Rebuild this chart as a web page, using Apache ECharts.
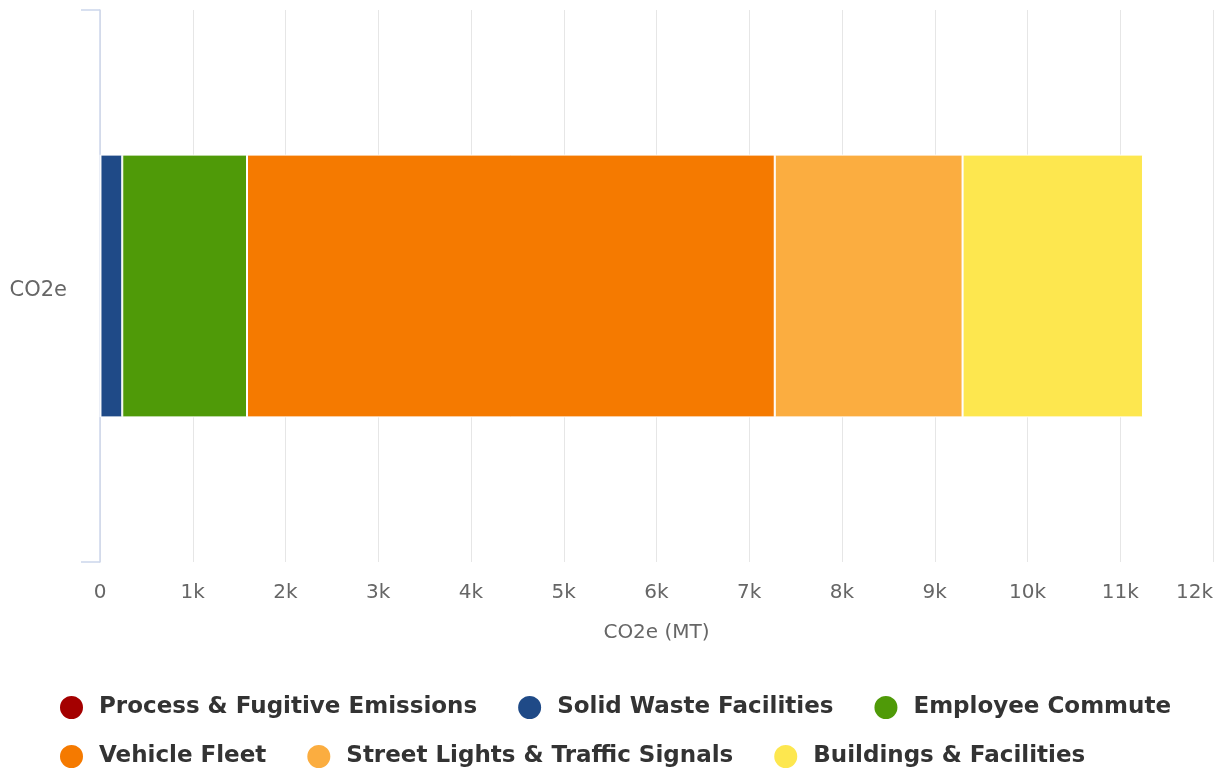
<!DOCTYPE html>
<html>
<head>
<meta charset="utf-8">
<script src="https://cdn.jsdelivr.net/npm/echarts@6/dist/echarts.min.js"></script>
<style>
  html, body { margin: 0; padding: 0; background: #fff; }
  #chart { width: 1225px; height: 774px; }
</style>
</head>
<body>
<div id="chart"></div>
<script>
// 数据
const categories = ['CO2e'];
const seriesNames = [
    'Process & Fugitive Emissions',
    'Solid Waste Facilities',
    'Employee Commute',
    'Vehicle Fleet',
    'Street Lights & Traffic Signals',
    'Buildings & Facilities'
];
const seriesValues = [5, 235, 1345, 5690, 2025, 1945];
const xTicks = [0, 1000, 2000, 3000, 4000, 5000, 6000, 7000, 8000, 9000, 10000, 11000, 12000];

const palette = ['#a40000', '#1f4a87', '#4f9a08', '#f57a00', '#fbad40', '#fde74f'];
const fontFamily = 'DejaVu Sans';

function makeLegend(names, top) {
    return {
        data: names,
        left: 53,
        top: top,
        orient: 'horizontal',
        icon: 'circle',
        itemWidth: 25,
        itemHeight: 25,
        itemGap: 39,
        selectedMode: false,
        textStyle: {
            fontFamily: fontFamily,
            fontSize: 23,
            fontWeight: 'bold',
            color: '#333',
            padding: [0, 0, 0, 10]
        }
    };
}

let chart = echarts.init(document.getElementById('chart'));

let series = seriesNames.map(function(name, i) {
    return {
        name: name,
        type: 'bar',
        stack: 'total',
        barWidth: '47.6%',
        data: [seriesValues[i]],
        itemStyle: {
            color: palette[i],
            borderColor: '#fff',
            borderWidth: 1
        },
        emphasis: { disabled: true }
    };
});

let options = {
    animation: false,
    grid: {
        left: 100,
        right: 12,
        top: 10,
        bottom: 212,
        containLabel: false,
        outerBoundsMode: 'none'
    },
    legend: [
        makeLegend(seriesNames.slice(0, 3), 689),
        makeLegend(seriesNames.slice(3), 738)
    ],
    xAxis: {
        type: 'value',
        min: xTicks[0],
        max: xTicks[xTicks.length - 1],
        interval: xTicks[1] - xTicks[0],
        name: 'CO2e (MT)',
        nameLocation: 'middle',
        nameGap: 61,
        nameTextStyle: {
            fontFamily: fontFamily,
            fontSize: 20,
            color: '#666'
        },
        axisLine: { show: false },
        axisTick: { show: false },
        axisLabel: {
            margin: 21,
            fontFamily: fontFamily,
            fontSize: 20,
            color: '#666',
            alignMaxLabel: 'right',
            formatter: function(v) {
                return v === 0 ? '0' : (v / 1000) + 'k';
            }
        },
        splitLine: {
            show: true,
            lineStyle: { color: '#e6e6e6', width: 1 }
        }
    },
    yAxis: {
        type: 'category',
        data: categories,
        axisLine: {
            show: true,
            lineStyle: { color: '#ccd6eb', width: 1.5 }
        },
        axisTick: {
            show: true,
            length: 19,
            lineStyle: { color: '#ccd6eb', width: 1.5 }
        },
        axisLabel: {
            margin: 33,
            color: '#666',
            formatter: '{lbl|{value}}',
            rich: {
                lbl: {
                    fontFamily: fontFamily,
                    fontSize: 21,
                    color: '#666',
                    padding: [9, 0, 0, 0]
                }
            }
        },
        splitLine: { show: false }
    },
    series: series
};

chart.setOption(options);
</script>
</body>
</html>
